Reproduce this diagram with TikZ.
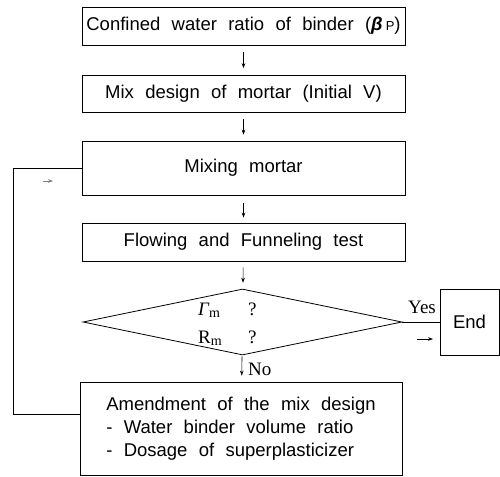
\documentclass[tikz,border=0pt]{standalone}
\usepackage{fontspec}
\setmainfont{Liberation Sans}[WordSpace=2.2]
\newfontfamily\seriffont{Liberation Serif}
\usetikzlibrary{shapes.geometric,arrows.meta}
\newcommand{\lowsub}[1]{\raisebox{-2.5pt}{\fontsize{14}{14}\selectfont #1}}
\begin{document}
\begin{tikzpicture}[x=1pt,y=-1pt,
  box/.style={draw, line width=0.8pt, fill=white, inner sep=0pt, font=\fontsize{18.5}{23}\selectfont},
  arr/.style={-{Stealth[length=5pt,width=3.6pt]}, line width=0.6pt},
  conn/.style={line width=0.8pt},
  lab/.style={font=\seriffont\fontsize{19}{22}\selectfont, inner sep=0pt}]
\useasboundingbox (0,0) rectangle (500,476);
\node[box, minimum width=323pt, minimum height=38pt] (b1) at (243.5,26) {Confined water ratio of binder ({\bfseries\itshape β}\,{\fontsize{13}{13}\selectfont P})};
\node[box, minimum width=323pt, minimum height=37pt] (b2) at (243.5,94) {Mix design of mortar (Initial V)};
\node[box, minimum width=323pt, minimum height=54pt] (b3) at (243.5,168) {Mixing mortar};
\node[box, minimum width=323pt, minimum height=38pt] (b4) at (243.5,242) {Flowing and Funneling test};
\node[draw, conn, diamond, minimum width=319pt, minimum height=66pt, inner sep=0pt] (dia) at (242.5,322) {};
\node[lab, anchor=base west] (g) at (198,315) {{\itshape Γ}\lowsub{m}};
\node[lab, anchor=base west] (q1) at (248,315) {?};
\node[lab, anchor=base west] (r) at (198,343) {R\lowsub{m}};
\node[lab, anchor=base west] (q2) at (248,343) {?};
\node[lab, anchor=base west] (no) at (248,375) {No};
\node[lab, anchor=base west] (yes) at (408,313) {Yes};
\node[box, minimum width=59pt, minimum height=66pt] (end) at (469.5,322) {End};
\node[box, minimum width=322pt, minimum height=93pt, align=left] (b5) at (241,428.5) {Amendment of the mix design\\- Water binder volume ratio\\- Dosage of superplasticizer};
\draw[arr, shorten <=7pt, shorten >=7pt] (b1) -- (b2);
\draw[arr, shorten <=6pt, shorten >=6pt] (b2) -- (b3);
\draw[arr, shorten <=8pt, shorten >=5pt] (b3) -- (b4);
\draw[arr, shorten <=6pt, shorten >=6pt] (b4) -- (dia);
\draw[arr, shorten <=1pt, shorten >=6pt] (dia) -- (b5);
\draw[conn] (dia.east) -- (end.west);
\coordinate (fb) at (13,168);
\draw[conn] ([yshift=14pt]b5.west) -| (fb) -- (b3.west);
\coordinate (s1a) at (43,181);
\coordinate (s1b) at (53,181);
\draw[arr, gray, line width=0.4pt] (s1a) -- (s1b);
\coordinate (s2a) at (417,339);
\coordinate (s2b) at (433,339);
\draw[arr] (s2a) -- (s2b);
\end{tikzpicture}
\end{document}
